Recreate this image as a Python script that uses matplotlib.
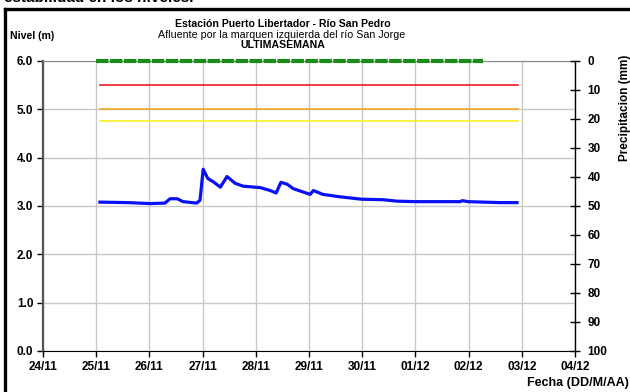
import numpy as np
import pandas as pd
import matplotlib
matplotlib.use("Agg")
import matplotlib.pyplot as plt
import matplotlib.dates as mdates
from matplotlib.lines import Line2D

# ---------- data ----------
nivel_fecha = [
    "2022-11-25 01:40", "2022-11-25 14:20", "2022-11-26 00:15", "2022-11-26 07:00",
    "2022-11-26 09:20", "2022-11-26 12:30", "2022-11-26 15:10", "2022-11-26 21:20",
    "2022-11-26 22:50", "2022-11-27 00:15", "2022-11-27 02:20", "2022-11-27 04:50",
    "2022-11-27 08:00", "2022-11-27 11:00", "2022-11-27 14:40", "2022-11-27 18:15",
    "2022-11-28 02:00", "2022-11-28 06:30", "2022-11-28 09:10", "2022-11-28 11:20",
    "2022-11-28 14:10", "2022-11-28 16:50", "2022-11-29 00:30", "2022-11-29 02:00",
    "2022-11-29 06:15", "2022-11-29 14:00", "2022-11-29 23:45", "2022-11-30 09:20",
    "2022-11-30 15:40", "2022-11-30 23:45", "2022-12-01 20:10", "2022-12-01 21:10",
    "2022-12-01 23:45", "2022-12-02 14:10", "2022-12-02 21:50",
]
nivel_m = [
    3.08, 3.07, 3.05, 3.06, 3.15, 3.15, 3.09, 3.06,
    3.12, 3.76, 3.57, 3.50, 3.39, 3.61, 3.47, 3.41,
    3.38, 3.32, 3.27, 3.49, 3.45, 3.36, 3.24, 3.32,
    3.24, 3.19, 3.14, 3.13, 3.10, 3.09, 3.09, 3.11,
    3.09, 3.07, 3.07,
]

# precipitation record (all zero during the week)
precip_fecha = ["2022-11-25 00:00", "2022-12-02 06:30"]
precip_mm = [0.0, 0.0]

# reference levels (m)
umbral_fecha = ["2022-11-25 01:30", "2022-12-02 22:20"]
umbral_rojo = 5.5
umbral_naranja = 5.0
umbral_amarillo = 4.75

x_ticks = pd.date_range("2022-11-24", "2022-12-04", freq="D")

# ---------- style ----------
plt.rcParams.update({
    "font.family": ["Liberation Sans", "DejaVu Sans"],
    "font.size": 7,
})
grid_color = "#c8c8c8"
tick_fs = 8.5

fig = plt.figure(figsize=(6.3, 3.92), dpi=100)
ax = fig.add_axes([0.0683, 0.1046, 0.8444, 0.7398])
ax2 = ax.twinx()

t_nivel = pd.to_datetime(nivel_fecha)
t_umbral = pd.to_datetime(umbral_fecha)
t_precip = pd.to_datetime(precip_fecha)

ax.plot(t_umbral, [umbral_rojo] * 2, color="#ec1c24", lw=1.2, zorder=3)
ax.plot(t_umbral, [umbral_naranja] * 2, color="#f7a823", lw=1.2, zorder=3)
ax.plot(t_umbral, [umbral_amarillo] * 2, color="#f8f024", lw=1.2, zorder=3)
ax.plot(t_nivel, nivel_m, color="#0a10f5", lw=2.3, solid_joinstyle="round", zorder=4)

ax2.plot(t_precip, precip_mm, color="#1a8c1a", lw=3.0, dashes=(3.0, 0.35),
         solid_capstyle="butt", clip_on=False, zorder=5)

# left axis: level
ax.set_xlim(x_ticks[0], x_ticks[-1])
ax.set_ylim(0, 6)
ax.set_yticks(np.arange(0, 6.1, 1.0))
ax.yaxis.set_major_formatter(matplotlib.ticker.FormatStrFormatter("%.1f"))
ax.set_xticks(x_ticks)
ax.xaxis.set_major_formatter(mdates.DateFormatter("%d/%m"))
ax.grid(True, color=grid_color, lw=1.0)
ax.set_axisbelow(True)
ax.tick_params(axis="both", direction="out", length=4, width=1, labelsize=tick_fs, pad=3)
for lab in ax.get_xticklabels() + ax.get_yticklabels():
    lab.set_fontweight("bold")
ax.spines["left"].set_color("#555555")
ax.spines["left"].set_linewidth(1.6)
ax.spines["top"].set_color("#888888")
ax.spines["bottom"].set_color("black")
ax.spines["right"].set_visible(False)

# right axis: precipitation (inverted)
ax2.set_ylim(100, 0)
ax2.set_yticks(np.arange(0, 101, 10))
ax2.tick_params(axis="y", direction="inout", length=7, width=1, labelsize=tick_fs, pad=5.5)
for lab in ax2.get_yticklabels():
    lab.set_fontweight("bold")
ax2.spines["right"].set_color("black")
ax2.spines["right"].set_linewidth(1.0)
for s in ("left", "top", "bottom"):
    ax2.spines[s].set_visible(False)
ax2.set_ylabel("Precipitacion (mm)", fontsize=8.5, fontweight="bold")
ax2.yaxis.set_label_coords(1.082, 0.84)

# titles and labels
fig.text(0.449, 0.940, "Estación Puerto Libertador - Río San Pedro",
         ha="center", va="center", fontsize=7.6, fontweight="bold")
fig.text(0.447, 0.910, "Afluente por la marquen izquierda del río San Jorge",
         ha="center", va="center", fontsize=7.7)
fig.text(0.449, 0.884, "ULTIMASEMANA",
         ha="center", va="center", fontsize=7.6, fontweight="bold")
fig.text(0.016, 0.908, "Nivel (m)", ha="left", va="center", fontsize=7.6, fontweight="bold")
fig.text(0.998, 0.022, "Fecha (DD/M/AA)", ha="right", va="center", fontsize=9, fontweight="bold")

# text running above the figure
fig.text(0.006, 0.994, "estabilidad en los niveles.", ha="left", va="baseline",
         fontsize=11, fontweight="bold")

# outer frame (left and top edges)
fig.add_artist(Line2D([0.0087, 0.0087], [0.0, 0.976], transform=fig.transFigure,
                      color="black", lw=2.4, solid_capstyle="projecting"))
fig.add_artist(Line2D([0.0087, 1.0], [0.976, 0.976], transform=fig.transFigure,
                      color="black", lw=2.4, solid_capstyle="projecting"))

fig.savefig("out.png", dpi=100, facecolor="white")
